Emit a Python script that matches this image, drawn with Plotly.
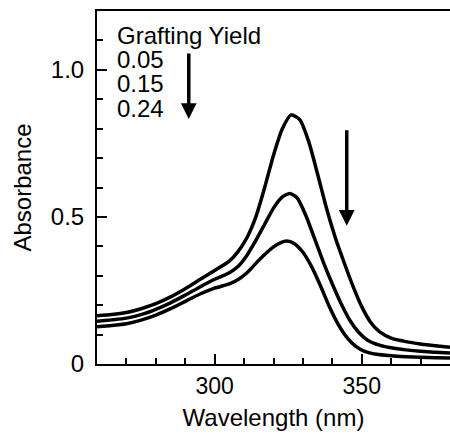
import plotly.graph_objects as go

# Wavelength (nm) and absorbance for each grafting yield
wl_005 = [260, 265, 270, 275, 280, 285, 290, 295, 300, 305, 308, 311, 314, 317, 320, 323, 326,
          329, 332, 335, 338, 341, 344, 347, 350, 353, 356, 360, 365, 370, 375, 380]
abs_005 = [0.164, 0.168, 0.175, 0.188, 0.205, 0.228, 0.256, 0.287, 0.318, 0.350, 0.383, 0.43, 0.50,
           0.60, 0.71, 0.80, 0.847, 0.83, 0.755, 0.645, 0.53, 0.43, 0.345, 0.265, 0.195, 0.142,
           0.110, 0.088, 0.076, 0.068, 0.062, 0.057]

wl_015 = [260, 265, 270, 275, 280, 285, 290, 295, 300, 305, 308, 311, 314, 317, 320, 323, 325.5,
          328, 331, 334, 337, 340, 343, 346, 349, 352, 356, 360, 365, 370, 375, 380]
abs_015 = [0.145, 0.150, 0.156, 0.168, 0.186, 0.208, 0.234, 0.262, 0.288, 0.310, 0.332, 0.37, 0.42,
           0.475, 0.53, 0.568, 0.58, 0.565, 0.505, 0.425, 0.345, 0.272, 0.205, 0.148, 0.107, 0.081,
           0.064, 0.055, 0.048, 0.043, 0.040, 0.037]

wl_024 = [260, 265, 270, 275, 280, 285, 290, 295, 300, 305, 308, 311, 314, 317, 320, 322.5, 324.5,
          327, 330, 333, 336, 339, 342, 345, 348, 351, 355, 360, 365, 370, 375, 380]
abs_024 = [0.127, 0.131, 0.137, 0.149, 0.166, 0.188, 0.213, 0.238, 0.258, 0.272, 0.287, 0.31,
           0.342, 0.372, 0.398, 0.413, 0.418, 0.41, 0.38, 0.33, 0.265, 0.195, 0.135, 0.09, 0.06,
           0.043, 0.033, 0.028, 0.025, 0.023, 0.021, 0.02]

legend_title = "Grafting Yield"
legend_labels = ["0.05", "0.15", "0.24"]

x_tickvals = [300, 350]
x_ticktext = ["300", "350"]
y_tickvals = [0, 0.5, 1.0]
y_ticktext = ["0", "0.5", "1.0"]

FONT = "Arial, Liberation Sans, Helvetica, sans-serif"

fig = go.Figure()
for wl, ab, name in [(wl_005, abs_005, legend_labels[0]),
                     (wl_015, abs_015, legend_labels[1]),
                     (wl_024, abs_024, legend_labels[2])]:
    fig.add_trace(go.Scatter(x=wl, y=ab, mode="lines", name=name,
                             line=dict(color="black", width=3.5, shape="spline", smoothing=0.6),
                             showlegend=False))

# legend-like text block
legend_lines = [legend_title] + legend_labels
legend_y = [1.116, 1.034, 0.952, 0.870]
for txt, yy in zip(legend_lines, legend_y):
    fig.add_annotation(x=266.3, y=yy, xref="x", yref="y", text=txt, showarrow=False,
                       xanchor="left", yanchor="middle", borderpad=0,
                       font=dict(family=FONT, size=24, color="black"))

# arrows
fig.add_annotation(x=291.2, y=0.833, ax=291.2, ay=1.061, xref="x", yref="y", axref="x", ayref="y",
                   text="", showarrow=True, arrowhead=2, arrowsize=0.9, arrowwidth=3.5,
                   arrowcolor="black")
fig.add_annotation(x=344.9, y=0.47, ax=344.9, ay=0.80, xref="x", yref="y", axref="x", ayref="y",
                   text="", showarrow=True, arrowhead=2, arrowsize=0.9, arrowwidth=3.5,
                   arrowcolor="black")

fig.update_xaxes(range=[260, 380], tickvals=x_tickvals, ticktext=x_ticktext,
                 ticks="inside", ticklen=10, tickwidth=2, tickcolor="black",
                 minor=dict(ticks="inside", ticklen=6, tickwidth=1.5, dtick=10, tick0=0,
                            tickcolor="black"),
                 showline=True, linewidth=2, linecolor="black", mirror=True,
                 showgrid=False, zeroline=False, automargin=False,
                 tickfont=dict(family=FONT, size=23, color="black"),
                 title=dict(text="Wavelength (nm)", font=dict(family=FONT, size=24, color="black"),
                            standoff=12))
fig.update_yaxes(range=[0, 1.2], tickvals=y_tickvals, ticktext=y_ticktext,
                 ticks="inside", ticklen=10, tickwidth=2, tickcolor="black",
                 minor=dict(ticks="inside", ticklen=6, tickwidth=1.5, dtick=0.1, tick0=0,
                            tickcolor="black"),
                 showline=True, linewidth=2, linecolor="black", mirror=False,
                 showgrid=False, zeroline=False, automargin=False, ticklabelstandoff=6,
                 tickfont=dict(family=FONT, size=24, color="black"),
                 title=dict(text="Absorbance", font=dict(family=FONT, size=24, color="black"),
                            standoff=12))

fig.update_layout(width=450, height=434, margin=dict(l=97, r=0, t=11, b=70),
                  plot_bgcolor="white", paper_bgcolor="white")

fig.write_html("out.html", config={"displayModeBar": False},
               post_script="document.body.style.margin='0';document.body.style.overflow='hidden';")
